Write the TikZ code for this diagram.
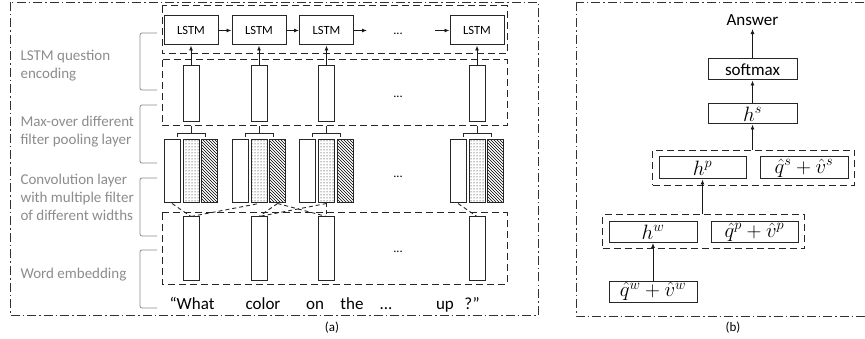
\documentclass[tikz,border=0pt]{standalone}
\usepackage{fontspec}
\setmainfont{Carlito}
\usetikzlibrary{positioning, arrows.meta, fit, patterns}

\begin{document}
\begin{tikzpicture}[
    x=1pt, y=-1pt,
    >={Latex[length=5pt,width=4pt]},
    font=\fontsize{12.5}{15}\selectfont,
    framebox/.style={draw=black!80, line width=0.9pt,
        dash pattern=on 9pt off 3pt on 1.5pt off 3pt},
    groupbox/.style={draw=black!85, line width=1pt, dash pattern=on 7pt off 4pt},
    lstmbox/.style={
        rectangle, draw=black!85, fill=white, line width=1pt,
        minimum width=54pt, minimum height=29pt, inner sep=0pt
    },
    vecbar/.style={
        rectangle, draw=black!85, line width=1pt,
        minimum width=16pt, minimum height=63pt, inner sep=0pt
    },
    dotbar/.style={vecbar, pattern=dots, pattern color=black},
    hatchbar/.style={vecbar, pattern=north west lines, pattern color=black},
    layerbox/.style={
        rectangle, draw=black!85, line width=1pt,
        minimum width=88pt, minimum height=21pt, inner sep=0pt,
        font=\fontsize{17}{20}\selectfont
    },
    mathtext/.style={font=\fontsize{20}{22}\selectfont},
    sidelabel/.style={anchor=west, align=left, text=black!45,
        font=\fontsize{15}{18}\selectfont},
    sidebrace/.style={draw=black!45, line width=0.8pt, rounded corners=2pt},
    bracestyle/.style={draw=black!85, line width=0.9pt},
    wordlabel/.style={anchor=base, font=\fontsize{17}{20}\selectfont},
    arrstyle/.style={->, line width=0.9pt, black!90},
    convlink/.style={black!85, line width=0.9pt, dash pattern=on 4pt off 3pt},
    caption/.style={font=\fontsize{13}{15}\selectfont},
]
\useasboundingbox (0,0) rectangle (865,339);

% ---- Outer frames ----
\draw[framebox] (10,2) rectangle (538,315);
\draw[framebox] (576,2) rectangle (868,316);

% ---- Layer labels (left) ----
\node[sidelabel] (lab1) at (17,66) {LSTM question\\encoding};
\node[sidelabel] (lab2) at (17,131.5) {Max-over different\\filter pooling layer};
\node[sidelabel] (lab3) at (17,197) {Convolution layer\\with multiple filter\\of different widths};
\node[sidelabel] (lab4) at (17,275) {Word embedding};

\foreach \ya/\yb in {33/90, 105/163, 178/236, 250/308} {
    \draw[sidebrace] (157,\ya) -- (140,\ya) -- (140,\yb) -- (157,\yb);
}

% ---- Dashed layer groups ----
\draw[groupbox] (162,6) rectangle (507,54);
\draw[groupbox] (162,60) rectangle (507,126);
\draw[groupbox] (162,213) rectangle (507,284);

% ---- LSTM row ----
\foreach \i/\x in {1/191, 2/259, 3/326.5, 4/477} {
    \node[lstmbox] (lstm\i) at (\x,30.5) {LSTM};
}
\coordinate (lstmout) at (367,30.5);
\coordinate (lstmin) at (435,30.5);
\draw[arrstyle] (lstm1) -- (lstm2);
\draw[arrstyle] (lstm2) -- (lstm3);
\draw[arrstyle] (lstm3.east) -- (lstmout);
\draw[arrstyle] (lstmin) -- (lstm4.west);
\node (lstmdots) at (398,34) {...};

% ---- Pooled vectors ----
\foreach \i/\x in {1/191, 2/259, 3/326.5, 4/477} {
    \node[vecbar, minimum height=56pt] (pool\i) at (\x,94) {};
    \draw[arrstyle] (pool\i.north) -- (lstm\i.south);
}
\node (pooldots) at (398,97) {...};

% ---- Convolution filters + max-over braces ----
\foreach \i/\x in {1/191, 2/259, 3/326.5, 4/477} {
    \node[vecbar] (cw\i) at (\x-19,171.5) {};
    \node[dotbar] (cd\i) at (\x,171.5) {};
    \node[hatchbar] (ch\i) at (\x+18.5,171.5) {};
    \draw[bracestyle] (\x-14,137) |- (\x+14,133) -- (\x+14,137);
    \draw[bracestyle] (\x,133) -- (\x,126);
}
\node (convdots) at (398,177) {...};

% ---- Word embeddings ----
\foreach \i/\x in {1/191, 2/259, 3/326.5, 4/477} {
    \node[vecbar] (emb\i) at (\x,248.5) {};
}
\node (embdots) at (398,252) {...};

\draw[convlink] (cw1.south) -- (emb1.north);
\draw[convlink] (emb1.north) -- (cd2.south);
\draw[convlink] (ch2.south) -- (emb2.north);
\draw[convlink] (ch2.south) -- (emb3.north);
\draw[convlink] (cd3.south) -- (emb2.north);
\draw[convlink] (cd3.south) -- (emb3.north);
\draw[convlink] (cw4.south) -- (emb4.north);

% ---- Question words ----
\foreach \x/\w [count=\k] in {192/{“What}, 263/color, 315/on, 352/the,
                               386/{...}, 445/up, 472/{?”}} {
    \node[wordlabel] (word\k) at (\x,309) {\w};
}

\node[caption] (capa) at (332,328) {(a)};

% ---- Panel (b): stacked attention ----
\node[font=\fontsize{17}{20}\selectfont] (answer) at (752.5,20) {Answer};
\node[layerbox, minimum width=89pt] (softmax) at (752.5,69.5) {softmax};
\node[layerbox, mathtext, minimum width=89pt, minimum height=20pt] (hs) at (752.5,114) {$h^{s}$};

\node[layerbox, mathtext, minimum width=87pt, minimum height=22pt] (hp) at (702.5,168) {$h^{p}$};
\node[layerbox, mathtext, minimum height=22pt] (qsvs) at (804,168) {$\hat{q}^{s}+\hat{v}^{s}$};
\node[groupbox, fit=(hp)(qsvs), inner xsep=6pt, inner ysep=6pt] (pfit) {};

\node[layerbox, mathtext] (hw) at (653,232) {$h^{w}$};
\node[layerbox, mathtext, minimum width=87pt] (qpvp) at (754.5,232) {$\hat{q}^{p}+\hat{v}^{p}$};
\node[groupbox, fit=(hw)(qpvp), inner xsep=6pt, inner ysep=6pt] (wfit) {};

\node[layerbox, mathtext] (qwvw) at (653,291.5) {$\hat{q}^{w}+\hat{v}^{w}$};

\draw[arrstyle] (softmax) -- (answer);
\draw[arrstyle] (hs) -- (softmax);
\draw[arrstyle] (hs |- pfit.north) -- (hs.south);
\draw[arrstyle] (hp |- wfit.north) -- (hp.south);
\draw[arrstyle] (qwvw) -- (hw);

\node[caption] (capb) at (733,328) {(b)};

\end{tikzpicture}
\end{document}
